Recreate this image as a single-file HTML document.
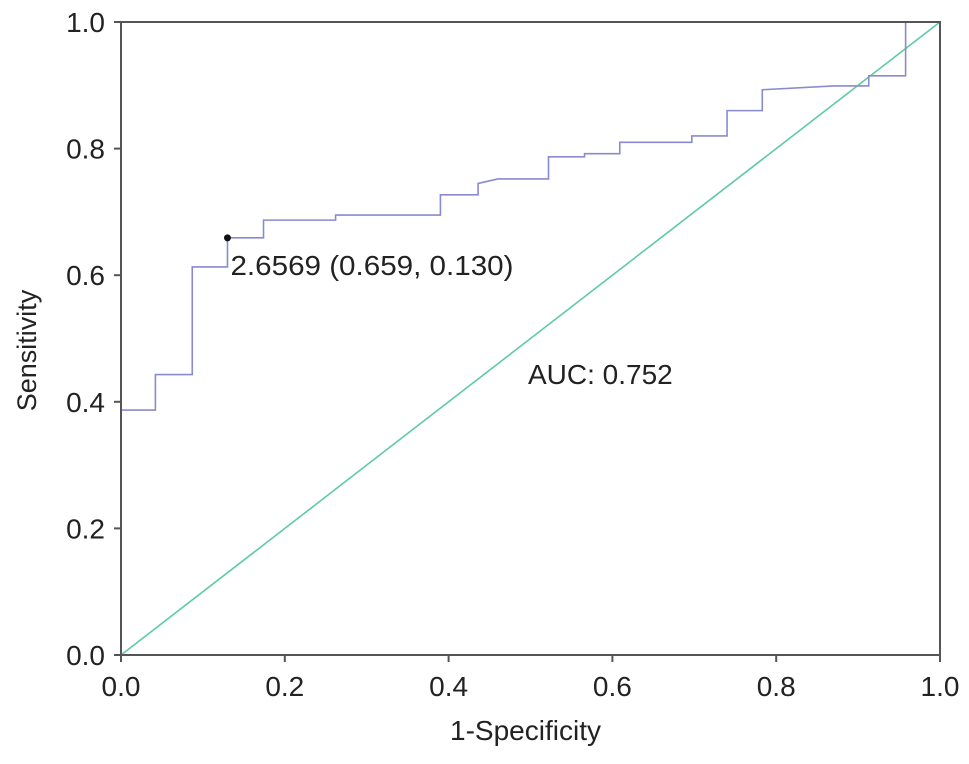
<!DOCTYPE html>
<html><head><meta charset="utf-8"><style>
body{margin:0;background:#fff}
svg text{font-family:"Liberation Sans",sans-serif;fill:#222}
</style></head><body>
<svg id="c" width="969" height="759"></svg>
<script>
const fpr=[0,0,0.042,0.042,0.087,0.087,0.130,0.130,0.174,0.174,0.262,0.262,0.390,0.390,0.436,0.436,0.46,0.522,0.522,0.566,0.566,0.609,0.609,0.697,0.697,0.740,0.740,0.783,0.783,0.87,0.913,0.913,0.958,0.958,1.0];
const tpr=[0,0.387,0.387,0.443,0.443,0.613,0.613,0.659,0.659,0.687,0.687,0.695,0.695,0.727,0.727,0.745,0.752,0.752,0.787,0.787,0.792,0.792,0.81,0.81,0.82,0.82,0.86,0.86,0.893,0.899,0.899,0.915,0.915,1.0,1.0];
const ticks=[0,0.2,0.4,0.6,0.8,1.0];
const tickLabels=["0.0","0.2","0.4","0.6","0.8","1.0"];
const cutoff=[0.130,0.659];
const auc="0.752";
const NS="http://www.w3.org/2000/svg",svg=document.getElementById('c');
const L=121,R=940,T=22,B=655;
const sx=v=>L+v*(R-L), sy=v=>B-v*(B-T);
function mk(t,a,p){const e=document.createElementNS(NS,t);for(const k in a)e.setAttribute(k,a[k]);(p||svg).appendChild(e);return e;}
const diag=mk('line',{x1:sx(0),y1:sy(0),x2:sx(1),y2:sy(1),stroke:'#5ecba1','stroke-width':1.6});


const roc=mk('polyline',{points:fpr.map((x,i)=>sx(x)+','+sy(tpr[i])).join(' '),fill:'none',stroke:'#8a8ad2','stroke-width':1.6});


const frame=mk('rect',{x:L,y:T,width:R-L,height:B-T,fill:'none',stroke:'#555','stroke-width':2});


ticks.forEach((t,i)=>{
  const a=mk('line',{x1:sx(t),y1:B,x2:sx(t),y2:B+7,stroke:'#555','stroke-width':2});
  
  
  const b=mk('text',{x:sx(t),y:B+41,'text-anchor':'middle','font-size':28});b.textContent=tickLabels[i];
  
  
  const c=mk('line',{x1:L-7,y1:sy(t),x2:L,y2:sy(t),stroke:'#555','stroke-width':2});
  
  
  const d=mk('text',{x:L-16,y:sy(t)+10,'text-anchor':'end','font-size':28});d.textContent=tickLabels[i];
  
  
});
const pt=mk('circle',{cx:sx(cutoff[0]),cy:sy(cutoff[1]),r:3.5,fill:'#111'});


const lab=mk('text',{x:sx(cutoff[0])+3,y:sy(cutoff[1])+37,'font-size':28,textLength:283,lengthAdjust:'spacingAndGlyphs'});lab.textContent='2.6569 (0.659, 0.130)';


const al=mk('text',{x:528,y:384,'font-size':28});al.textContent='AUC: '+auc;


const xt=mk('text',{x:sx(0.5)-5,y:740,'text-anchor':'middle','font-size':28});xt.textContent='1-Specificity';


const yt=mk('text',{x:0,y:0,'text-anchor':'middle','font-size':27,transform:'translate(36,'+(sy(0.5)+12)+') rotate(-90)'});yt.textContent='Sensitivity';


</script>
</body></html>
